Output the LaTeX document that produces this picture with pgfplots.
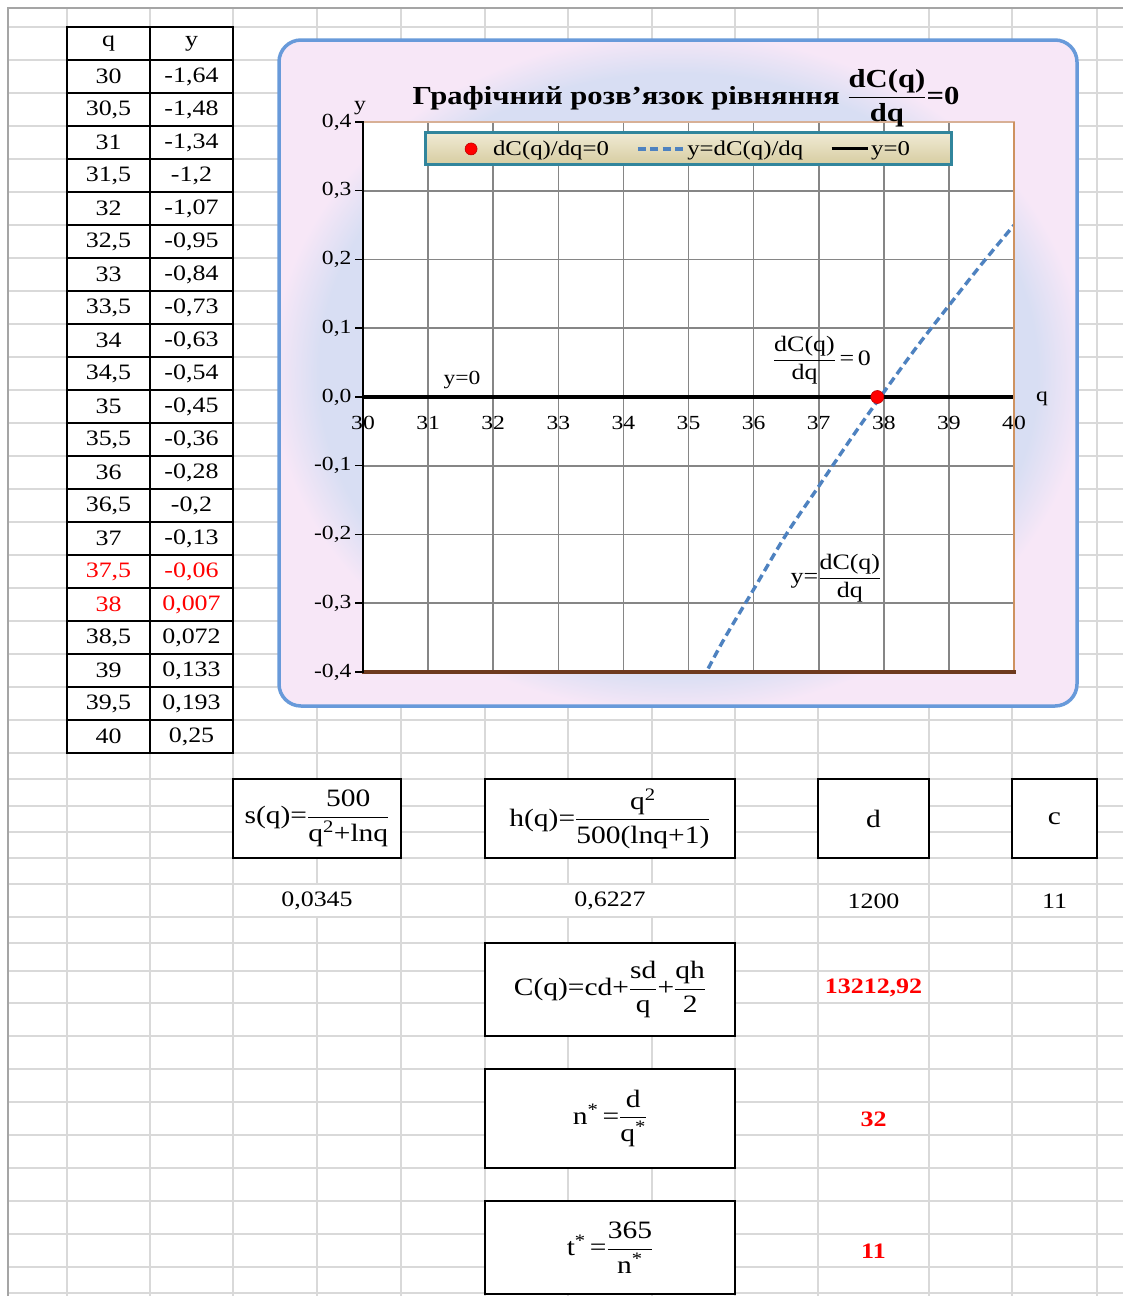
\documentclass[border=0pt]{standalone}
\usepackage{fontspec}
\setmainfont{Liberation Serif}[FakeStretch=1.18]
\usepackage{amsmath}
\usepackage{pgfplots}
\pgfplotsset{compat=1.18}
\pgfplotsset{
  longline legend/.style={legend image code/.code={\draw[##1] (0pt,0pt) -- (#1,0pt);}},
  dot legend/.style={legend image code/.code={\path[draw=none,fill=none] (0pt,0pt) -- (26pt,0pt); \draw[##1] plot coordinates {(6pt,0pt)};}}
}

\definecolor{gridlight}{RGB}{217,217,217}
\definecolor{gridouter}{RGB}{165,165,165}
\definecolor{chartborder}{RGB}{104,154,218}
\definecolor{bgblue}{RGB}{216,222,243}
\definecolor{bgpink}{RGB}{247,231,247}
\definecolor{plotgrid}{RGB}{134,134,134}
\definecolor{curveblue}{RGB}{78,130,192}
\definecolor{legteal}{RGB}{49,133,156}
\definecolor{legtop}{RGB}{240,234,212}
\definecolor{legbot}{RGB}{214,204,160}
\definecolor{bordertan}{RGB}{216,176,150}
\definecolor{borderorange}{RGB}{206,146,96}
\definecolor{borderbrown}{RGB}{110,58,30}
\definecolor{valred}{RGB}{255,0,0}

\pgfdeclareradialshading{chartbg}{\pgfpoint{0bp}{0bp}}{color(0bp)=(bgblue); color(22.5bp)=(bgblue); color(25.5bp)=(bgpink); color(50bp)=(bgpink)}

\newcommand\fA{\fontsize{22}{26}\selectfont}
\newcommand\fF{\fontsize{25}{30}\selectfont}
\newcommand\fT{\fontsize{20}{24}\selectfont}
\newcommand\fL{\fontsize{21}{25}\selectfont}
\newcommand\fN{\fontsize{22}{26}\selectfont}
\newcommand\fTitle{\fontsize{26}{31}\selectfont\bfseries}

\begin{document}
\begin{tikzpicture}
\useasboundingbox (0,0) rectangle (1123pt,-1296pt);
\fill[white] (0,0) rectangle (1123pt,-1296pt);
\begin{scope}[x=1pt,y=-1pt]
  % spreadsheet grid
  \foreach \x in {67,150,233,317,401,485,568,652,735,818,929,1012,1097}
    \draw[gridlight, line width=1.5pt] (\x,8) -- (\x,1296);
  \foreach \y in {27,60,...,753}
    \draw[gridlight, line width=1.5pt] (8,\y) -- (1123,\y);
  \foreach \y in {779,806,832,858,884,917,943,971,1003,1036,1069,1102,1135,1168,1201,1234,1267,1293}
    \draw[gridlight, line width=1.5pt] (8,\y) -- (1123,\y);
  \draw[gridouter, line width=2pt] (8,1296) -- (8,8) -- (1123,8);
  % chart area
  \shade[shading=chartbg, rounded corners=22pt] (279,40) rectangle (1077,706);
  \draw[chartborder, line width=3.5pt, rounded corners=22pt] (279,40) rectangle (1077,706);
\end{scope}

\begin{axis}[
  at={(363pt,-672pt)}, anchor=south west,
  scale only axis, width=651pt, height=550pt,
  xmin=30, xmax=40, ymin=-0.4, ymax=0.4,
  axis x line=middle, axis y line=left,
  axis line style={-},
  x axis line style={draw=none},
  y axis line style={black, line width=2pt},
  hide obscured x ticks=false, hide obscured y ticks=false,
  xtick={30,31,32,33,34,35,36,37,38,39,40},
  ytick={-0.4,-0.3,-0.2,-0.1,0,0.1,0.2,0.3,0.4},
  xtick style={draw=none},
  ytick style={black, line width=1.5pt},
  tick align=outside, major tick length=8pt,
  grid=major, grid style={plotgrid, line width=1.6pt},
  axis background/.style={fill=white},
  /pgf/number format/assume math mode=true,
  ticklabel style={font=\fT},
  yticklabel={\pgfmathprintnumber[fixed,fixed zerofill,precision=1,use comma]{\tick}},
  xticklabel style={anchor=center, yshift=-18pt},
  legend columns=3,
  legend style={at={(0.5,0.951)}, anchor=center, draw=legteal, line width=3pt,
    top color=legtop, bottom color=legbot, font=\fL, inner xsep=40pt, inner ysep=6pt,
    /tikz/every even column/.append style={column sep=25pt}},
]
\addlegendimage{only marks, mark=*, mark size=6pt, mark options={line width=0.6pt, draw=red!75!black, fill=red}, dot legend}
\addlegendentry{dC(q)/dq=0}
\addlegendimage{curveblue, line width=3.4pt, dash pattern=on 8pt off 4.5pt, longline legend=46pt}
\addlegendentry{y=dC(q)/dq}
\addlegendimage{black, line width=3pt, longline legend=36pt}
\addlegendentry{y=0}

\addplot[black, line width=3.2pt, forget plot] coordinates {(30,0) (40,0)};
\addplot[curveblue, line width=3.4pt, dash pattern=on 8pt off 4.5pt, smooth, forget plot] coordinates {
(30,-1.64) (30.5,-1.48) (31,-1.34) (31.5,-1.2) (32,-1.07) (32.5,-0.95) (33,-0.84)
(33.5,-0.73) (34,-0.63) (34.5,-0.54) (35,-0.45) (35.5,-0.36) (36,-0.28) (36.5,-0.2)
(37,-0.13) (37.5,-0.06) (38,0.007) (38.5,0.072) (39,0.133) (39.5,0.193) (40,0.25)};
\addplot[only marks, mark=*, mark size=6.5pt, mark options={line width=0.6pt, draw=red!75!black, fill=red}, forget plot] coordinates {(37.9,0)};
\end{axis}

\begin{scope}[x=1pt,y=-1pt]
  % plot area border
  \draw[bordertan, line width=2.5pt] (363,122) -- (1015,122);
  \draw[borderorange, line width=2.5pt] (1014,122) -- (1014,672);
  \draw[borderbrown, line width=3.5pt] (362,672) -- (1016,672);
  \draw[black, line width=2pt] (363,121) -- (363,673);
  % axis labels
  \node[font=\fT] at (360,108) {y};
  \node[font=\fT] at (1042,399) {q};
  % title
  \node[font=\fTitle, anchor=base] at (686,104) {Графічний розв’язок рівняння $\dfrac{\text{dC(q)}}{\text{dq}}$=0};
  % annotations
  \node[font=\fT] at (462,380) {y=0};
  \node[font=\fN] at (822,360) {$\dfrac{\text{dC(q)}}{\text{dq}}$\,=\,0};
  \node[font=\fN] at (836,578) {y=$\dfrac{\text{dC(q)}}{\text{dq}}$};

  % data table
  \fill[white] (67,27) rectangle (233,753);
  \foreach \i in {0,...,22}
    \draw[black, line width=2pt] (66,{27+33*\i}) -- (234,{27+33*\i});
  \foreach \x in {67,150,233}
    \draw[black, line width=2pt] (\x,27) -- (\x,753);
  \node[font=\fA] at (108.5,43.5) {q};
  \node[font=\fA] at (191.5,43.5) {y};
  \foreach \a/\b/\c [count=\i from 1] in {
    {30}/{-1,64}/black, {30,5}/{-1,48}/black, {31}/{-1,34}/black, {31,5}/{-1,2}/black,
    {32}/{-1,07}/black, {32,5}/{-0,95}/black, {33}/{-0,84}/black, {33,5}/{-0,73}/black,
    {34}/{-0,63}/black, {34,5}/{-0,54}/black, {35}/{-0,45}/black, {35,5}/{-0,36}/black,
    {36}/{-0,28}/black, {36,5}/{-0,2}/black, {37}/{-0,13}/black, {37,5}/{-0,06}/valred,
    {38}/{0,007}/valred, {38,5}/{0,072}/black, {39}/{0,133}/black, {39,5}/{0,193}/black,
    {40}/{0,25}/black}
  {
    \node[font=\fA, text=\c] at (108.5,{43.5+33*\i}) {\a};
    \node[font=\fA, text=\c] at (191.5,{43.5+33*\i}) {\b};
  }

  % formula boxes
  \draw[black, line width=2pt, fill=white] (233,779) rectangle (401,858);
  \node[font=\fF] at (317,818.5) {s(q)=$\dfrac{\text{500}}{\text{q\textsuperscript{2}+lnq}}$};
  \draw[black, line width=2pt, fill=white] (485,779) rectangle (735,858);
  \node[font=\fF] at (610,818.5) {h(q)=$\dfrac{\text{q\textsuperscript{2}}}{\text{500(lnq+1)}}$};
  \draw[black, line width=2pt, fill=white] (818,779) rectangle (929,858);
  \node[font=\fF] at (873.5,818.5) {d};
  \draw[black, line width=2pt, fill=white] (1012,779) rectangle (1097,858);
  \node[font=\fF] at (1054.5,818.5) {c};

  \fill[white] (234,885) rectangle (400,916);
  \fill[white] (486,885) rectangle (734,916);
  \node[font=\fA] at (317,901) {0,0345};
  \node[font=\fA] at (610,901) {0,6227};
  \node[font=\fA] at (873.5,901) {1200};
  \node[font=\fA] at (1054.5,901) {11};

  \draw[black, line width=2pt, fill=white] (485,943) rectangle (735,1036);
  \node[font=\fF] at (610,989.5) {C(q)=cd+$\dfrac{\text{sd}}{\text{q}}$+$\dfrac{\text{qh}}{\text{2}}$};
  \node[font=\fA\bfseries, text=valred] at (873.5,988) {13212,92};

  \draw[black, line width=2pt, fill=white] (485,1069) rectangle (735,1168);
  \node[font=\fF] at (610,1118.5) {n\textsuperscript{*}\,=$\dfrac{\text{d}}{\text{q\textsuperscript{*}}}$};
  \node[font=\fA\bfseries, text=valred] at (873.5,1119) {32};

  \draw[black, line width=2pt, fill=white] (485,1201) rectangle (735,1294);
  \node[font=\fF] at (610,1247.5) {t\textsuperscript{*}\,=$\dfrac{\text{365}}{\text{n\textsuperscript{*}}}$};
  \node[font=\fA\bfseries, text=valred] at (873.5,1251) {11};
\end{scope}
\end{tikzpicture}
\end{document}
